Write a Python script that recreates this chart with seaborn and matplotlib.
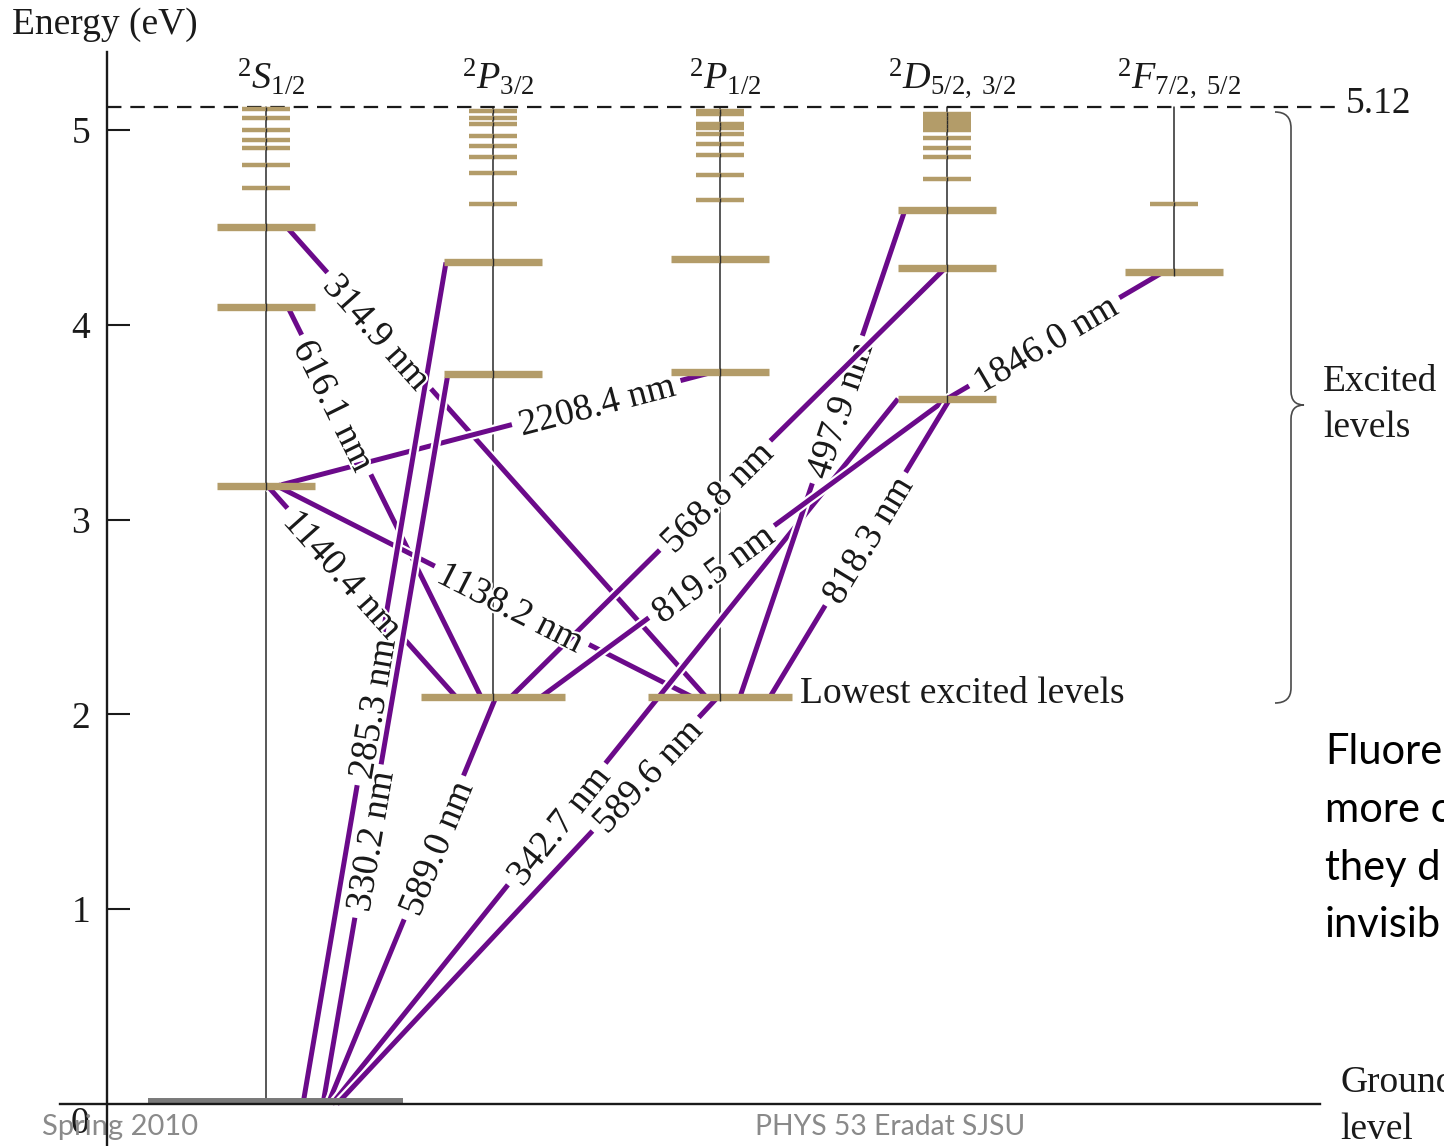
import numpy as np
import matplotlib
matplotlib.use("Agg")
import matplotlib.pyplot as plt
import matplotlib.patheffects as pe
from matplotlib.path import Path
from matplotlib.patches import PathPatch
from matplotlib.transforms import offset_copy
import seaborn as sns

sns.set_theme(style="white")
plt.rcParams["font.family"] = ["Liberation Serif", "DejaVu Serif"]
plt.rcParams["mathtext.fontset"] = "custom"
plt.rcParams["mathtext.rm"] = "Liberation Serif"
plt.rcParams["mathtext.it"] = "Liberation Serif:italic"

# ---------------------------------------------------------------- data
term_labels = [r"${}^{2}S_{1/2}$", r"${}^{2}P_{3/2}$", r"${}^{2}P_{1/2}$",
               r"${}^{2}D_{5/2,\ 3/2}$", r"${}^{2}F_{7/2,\ 5/2}$"]
term_cols = [0, 1, 2, 3, 4]

ionization_eV = 5.12
ground_eV = 0.0

# principal levels of each term (eV)
s_levels = [4.50, 4.09, 3.17]
p32_levels = [4.32, 3.75, 2.09]
p12_levels = [4.34, 3.76, 2.09]
d_levels = [4.59, 4.29, 3.62]
f_levels = [4.27]

# higher levels crowding toward the ionization limit (eV)
s_high = [5.11, 5.06, 5.00, 4.95, 4.91, 4.82, 4.70]
p32_high = [5.10, 5.06, 5.03, 4.97, 4.92, 4.86, 4.78, 4.62]
p12_high = [5.10, 5.08, 5.03, 5.01, 4.98, 4.93, 4.87, 4.77, 4.64]
d_high = [5.08, 5.06, 5.04, 5.02, 5.00, 4.96, 4.91, 4.86, 4.75]
f_high = [4.62]

# transitions: wavelength, start level (column, eV), end level (column, eV)
trans_nm = ["314.9", "616.1", "2208.4", "1140.4", "1138.2",
            "285.3", "330.2", "589.0", "342.7", "589.6",
            "497.9", "568.8", "819.5", "818.3", "1846.0"]
trans_from_col = [0, 0, 0, 0, 0, 0, 0, 0, 0, 0, 2, 1, 1, 2, 3]
trans_from_eV = [4.50, 4.09, 3.17, 3.17, 3.17, 0.0, 0.0, 0.0, 0.0, 0.0,
                 2.09, 2.09, 2.09, 2.09, 3.62]
trans_to_col = [2, 1, 2, 1, 2, 1, 1, 1, 3, 2, 3, 3, 3, 3, 4]
trans_to_eV = [2.09, 2.09, 3.76, 2.09, 2.09, 4.32, 3.75, 2.09, 3.62, 2.09,
               4.59, 4.29, 3.62, 3.62, 4.27]

# ---------------------------------------------------------------- layout / style
COL_PX = 227.0          # column spacing in pixels
X_ORIGIN_PX = 266.0     # pixel x of the first column
Y_ZERO_PX = 1104.0      # pixel y of 0 eV
EV_PX = 194.8           # pixels per eV
W, H = 1444, 1146


def xd(px):
    return (px - X_ORIGIN_PX) / COL_PX


def yd(py):
    return (Y_ZERO_PX - py) / EV_PX


# where each transition meets its levels (pixel offset from column centre)
from_dx = [21, 22, 9, 2, 12, 37, 57, 62, 66, 71, 20, 18, 48, 50, 0]
to_dx = [-14, -12, -5, -37, -28, -47, -45, 3, -49, -2, -42, -2, 0, 3, -11]
label_t = [0.22, 0.25, 0.73, 0.41, 0.565, 0.47, 0.36, 0.63, 0.397, 0.81,
           0.59, 0.47, 0.42, 0.53, 0.45]
# labels that sit underneath the crossing lines
behind = {"497.9"}

PURPLE = "#6b0a8a"
TAN = "#b39c69"
GROUND_GRAY = "#7a7a7a"
INK = "#1a1a1a"
SLIDE_GRAY = "#8a8a8a"
FS = 27

fig = plt.figure(figsize=(W / 100, H / 100), dpi=100)
ax = fig.add_axes([0, 0, 1, 1])
ax.set_xlim(xd(0), xd(W))
ax.set_ylim(yd(H), yd(0))
ax.set_facecolor("white")

# axes spines as the energy axis and the ground line
for side in ("top", "right"):
    ax.spines[side].set_visible(False)
ax.spines["left"].set_position(("data", xd(107)))
ax.spines["left"].set_bounds(yd(H), yd(52))
ax.spines["bottom"].set_position(("data", 0))
ax.spines["bottom"].set_bounds(xd(60), xd(1320))
for side in ("left", "bottom"):
    ax.spines[side].set_color(INK)
    ax.spines[side].set_linewidth(1.7)
    ax.spines[side].set_zorder(6)

ax.set_xticks([])
ax.set_yticks([1, 2, 3, 4, 5])
ax.set_yticklabels(["1", "2", "3", "4", "5"])
ax.tick_params(axis="y", left=True, direction="in", length=16.5, width=1.5,
               color=INK, labelsize=FS, pad=12, labelcolor=INK)
ax.text(xd(80), yd(1124), "0", fontsize=FS, ha="center", va="center", color=INK)
ax.text(xd(12), yd(25), "Energy (eV)", fontsize=FS, ha="left", va="center", color=INK)

# ionization limit
ax.plot([xd(107), xd(1335)], [ionization_eV] * 2, color=INK, lw=1.6,
        linestyle=(0, (6.5, 4.0)), zorder=2)
ax.text(xd(1346), yd(104), "5.12", fontsize=FS, ha="left", va="center", color=INK)

# term columns
col_bottom = [ground_eV, min(p32_levels), min(p12_levels), min(d_levels), min(f_levels)]
for c, lab, bot in zip(term_cols, term_labels, col_bottom):
    ax.plot([c, c], [bot, ionization_eV], color="#2a2a2a", lw=1.1, zorder=1)
    ax.text(c + 5 / COL_PX, yd(89), lab, fontsize=27.5, ha="center", va="baseline",
            color=INK)

# level bars
LONG_HALF = 49 / COL_PX
SHORT_HALF = 24 / COL_PX
WIDE_HALF = 72 / COL_PX
LONG_LW, SHORT_LW = 5.3, 3.2
bar_sets = [
    (0, s_levels, s_high), (1, p32_levels, p32_high), (2, p12_levels, p12_high),
    (3, d_levels, d_high), (4, f_levels, f_high),
]
lowest_excited = min(p32_levels)
for c, main, high in bar_sets:
    for e in main:
        half = WIDE_HALF if (e == lowest_excited and c in (1, 2)) else LONG_HALF
        ax.plot([c - half, c + half], [e, e], color=TAN, lw=LONG_LW,
                solid_capstyle="butt", zorder=4)
    for e in high:
        ax.plot([c - SHORT_HALF, c + SHORT_HALF], [e, e], color=TAN, lw=SHORT_LW,
                solid_capstyle="butt", zorder=4)
    # thin column line showing through each bar
    ax.plot([c] * len(main), main, ls="none", marker="|", ms=LONG_LW,
            mew=1.0, color="#2a2a2a", zorder=4.5)
    ax.plot([c] * len(high), high, ls="none", marker="|", ms=SHORT_LW,
            mew=1.0, color="#2a2a2a", zorder=4.5)

# ground level bar
ground_tr = offset_copy(ax.transData, fig=fig, x=0, y=3, units="dots")
ax.plot([xd(148), xd(403)], [ground_eV, ground_eV], color=GROUND_GRAY, lw=4.3,
        solid_capstyle="butt", zorder=5, transform=ground_tr)

# transitions, each line broken around its wavelength label
renderer = fig.canvas.get_renderer()
LW = 3.6
halo = [pe.Stroke(linewidth=LW + 3.2, foreground="white"), pe.Normal()]
for i, nm in enumerate(trans_nm):
    xa = trans_from_col[i] + from_dx[i] / COL_PX
    ya = trans_from_eV[i]
    xb = trans_to_col[i] + to_dx[i] / COL_PX
    yb = trans_to_eV[i]
    pa = ax.transData.transform((xa, ya))
    pb = ax.transData.transform((xb, yb))
    length = np.hypot(*(pb - pa))
    ang = np.degrees(np.arctan2(pb[1] - pa[1], pb[0] - pa[0]))
    if ang > 90:
        ang -= 180
    elif ang <= -90:
        ang += 180
    t = label_t[i]
    xc, yc = xa + t * (xb - xa), ya + t * (yb - ya)
    zt = 2.9 if nm in behind else 5.5
    txt = ax.text(xc, yc, f"{nm} nm", fontsize=FS, ha="center", va="center_baseline",
                  rotation=0, rotation_mode="anchor", color=INK, zorder=zt,
                  path_effects=[pe.withStroke(linewidth=3.0, foreground="white")])
    w = txt.get_window_extent(renderer=renderer).width
    txt.set_rotation(ang)
    g = (w / 2 + 7) / length
    for s0, s1 in ((0.0, t - g), (t + g, 1.0)):
        ax.plot([xa + s0 * (xb - xa), xa + s1 * (xb - xa)],
                [ya + s0 * (yb - ya), ya + s1 * (yb - ya)],
                color=PURPLE, lw=LW, solid_capstyle="butt", zorder=3,
                path_effects=halo)

ax.text(xd(800), yd(694), "Lowest excited levels", fontsize=FS, ha="left",
        va="center", color=INK)

# brace grouping the excited levels
brace_px = [(1275, 112), (1291, 112), (1291, 128), (1291, 391), (1291, 405),
            (1304, 405), (1291, 405), (1291, 419), (1291, 688), (1291, 703),
            (1275, 703)]
codes = [Path.MOVETO, Path.CURVE3, Path.CURVE3, Path.LINETO, Path.CURVE3,
         Path.CURVE3, Path.CURVE3, Path.CURVE3, Path.LINETO, Path.CURVE3, Path.CURVE3]
brace = Path([(xd(px), yd(py)) for px, py in brace_px], codes)
ax.add_patch(PathPatch(brace, fill=False, edgecolor="#4a4a4a", lw=1.2, zorder=2))
ax.text(xd(1323), yd(382), "Excited", fontsize=FS, ha="left", va="center", color=INK)
ax.text(xd(1323), yd(428), "levels", fontsize=FS, ha="left", va="center", color=INK)
ax.text(xd(1340), yd(1083), "Ground", fontsize=FS, ha="left", va="center", color=INK)
ax.text(xd(1340), yd(1130), "level", fontsize=FS, ha="left", va="center", color=INK)

# slide text
for s, py in zip(["Fluore", "more c", "they d", "invisib"], [752, 810, 868, 925]):
    ax.text(xd(1325), yd(py), s, fontsize=30, ha="left", va="center", color="black",
            family=["Lato", "DejaVu Sans"])
ax.text(xd(42), yd(1127), "Spring 2010", fontsize=21, ha="left", va="center",
        color=SLIDE_GRAY, family=["Lato", "DejaVu Sans"])
ax.text(xd(755), yd(1127), "PHYS 53 Eradat SJSU", fontsize=20.3, ha="left", va="center",
        color=SLIDE_GRAY, family=["Lato", "DejaVu Sans"])

fig.savefig("out.png", dpi=100, facecolor="white")
